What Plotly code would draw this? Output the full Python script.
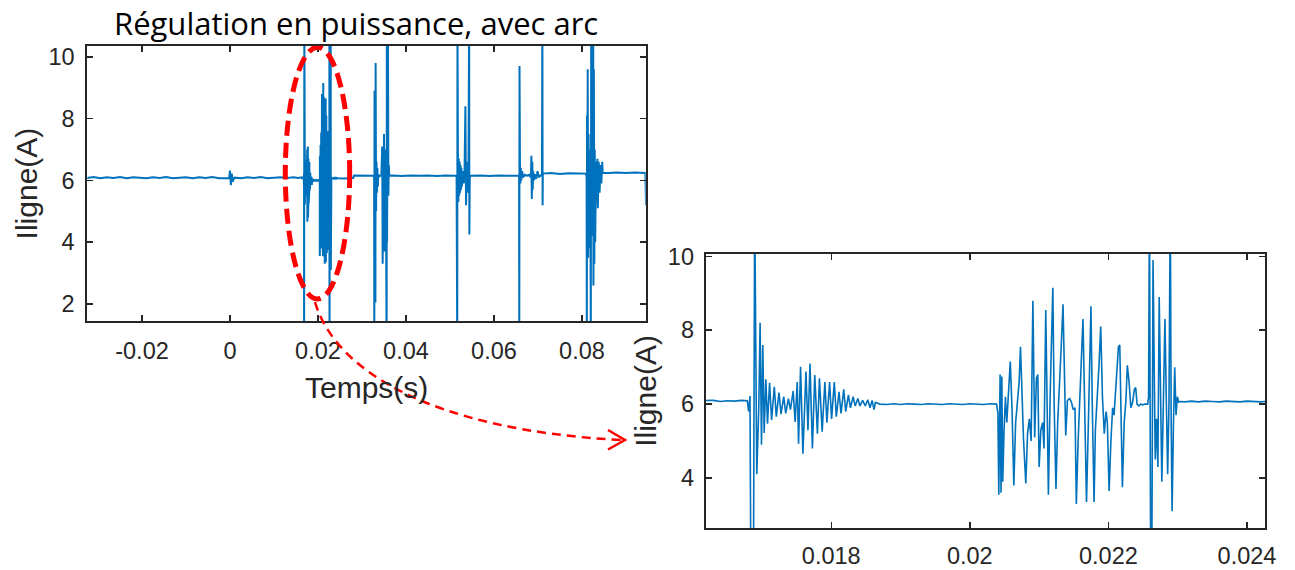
import plotly.graph_objects as go

# ---------------- data (time in s, current in A) ----------------
# baseline before the arc events, with the small blip at t = 0
t_pre = [-0.0325, -0.0310, -0.0295, -0.0280, -0.0265, -0.0250, -0.0235, -0.0220, -0.0205,
         -0.0190, -0.0175, -0.0160, -0.0145, -0.0130, -0.0115, -0.0100, -0.0085, -0.0070,
         -0.0055, -0.0040, -0.0025, -0.0010, -0.0002, 0.0000, 0.0002, 0.0004, 0.0006,
         0.0010, 0.0025, 0.0040, 0.0055, 0.0070, 0.0085, 0.0100, 0.0115, 0.0130, 0.0145, 0.0155]
i_pre = [6.08, 6.11, 6.07, 6.10, 6.08, 6.11, 6.07, 6.10, 6.09,
         6.07, 6.10, 6.08, 6.11, 6.07, 6.09, 6.10, 6.07, 6.10,
         6.08, 6.11, 6.07, 6.09, 6.08, 6.32, 5.85, 6.22, 5.96,
         6.09, 6.07, 6.10, 6.08, 6.11, 6.07, 6.09, 6.10, 6.08, 6.10, 6.08]

# detailed window (shown zoomed in the right panel), time in ms
t_zoom_ms = [16.20, 16.30, 16.40, 16.50, 16.60, 16.70, 16.788,
             16.808, 16.827, 16.842, 16.876, 16.895, 16.925, 16.954, 16.973, 16.993, 17.012,
             17.032, 17.056, 17.080, 17.110, 17.139, 17.178, 17.207, 17.246, 17.275, 17.314,
             17.343, 17.382, 17.411, 17.450, 17.479, 17.509, 17.528, 17.557, 17.591, 17.635,
             17.664, 17.693, 17.728, 17.762, 17.800, 17.830, 17.869, 17.908, 17.937, 17.976,
             18.005, 18.044, 18.073, 18.112, 18.141, 18.180, 18.209, 18.248, 18.277, 18.316,
             18.345, 18.384, 18.414, 18.453, 18.491, 18.526, 18.560, 18.589, 18.618, 18.637,
             18.70, 18.80, 18.90, 19.00, 19.10, 19.20, 19.30, 19.40, 19.50, 19.60, 19.70,
             19.80, 19.90, 20.00, 20.10, 20.20, 20.30,
             20.386, 20.405, 20.418, 20.437, 20.450, 20.462, 20.475, 20.494, 20.514, 20.533,
             20.558, 20.584, 20.610, 20.635, 20.661, 20.686, 20.712, 20.731, 20.750, 20.776,
             20.808, 20.833, 20.859, 20.885, 20.910, 20.936, 20.961, 20.981, 21.000, 21.025,
             21.051, 21.070, 21.096, 21.115, 21.134, 21.160, 21.179, 21.198, 21.217, 21.243,
             21.268, 21.294, 21.320, 21.345, 21.364, 21.384, 21.409, 21.441, 21.467, 21.492,
             21.518, 21.537, 21.563, 21.588, 21.614, 21.633, 21.659, 21.684, 21.710, 21.729,
             21.748, 21.767, 21.793, 21.812, 21.831, 21.863, 21.889, 21.914, 21.940, 21.966,
             21.985, 22.010, 22.036, 22.061, 22.081, 22.113, 22.145, 22.164, 22.183, 22.202,
             22.228, 22.253, 22.273, 22.298, 22.324, 22.349, 22.375, 22.394, 22.413, 22.439,
             22.464, 22.496, 22.528, 22.567, 22.580, 22.592, 22.612, 22.624, 22.644, 22.663,
             22.676, 22.695, 22.714, 22.733, 22.752, 22.771, 22.791, 22.816, 22.835, 22.855,
             22.874, 22.893, 22.906, 22.919, 22.938, 22.957, 22.976, 22.995, 23.015, 23.040,
             23.10, 23.20, 23.30, 23.40, 23.50, 23.60, 23.70, 23.80, 23.90, 24.00, 24.10, 24.20, 24.30]
i_zoom = [6.08, 6.10, 6.07, 6.09, 6.08, 6.10, 6.09,
          5.80, 6.22, 0.50, 0.50, 11.5, 4.10, 5.90, 8.20, 4.90, 7.60,
          5.22, 6.67, 5.47, 6.58, 5.57, 6.47, 5.66, 6.31, 5.73, 6.20,
          5.75, 6.15, 5.85, 6.35, 5.52, 6.60, 4.93, 7.01, 4.66, 6.88,
          5.29, 7.10, 4.80, 6.79, 5.20, 6.70, 5.25, 6.60, 5.50, 6.60,
          5.60, 6.60, 5.66, 6.33, 5.75, 6.40, 5.80, 6.25, 5.90, 6.20,
          5.95, 6.15, 5.95, 6.10, 5.95, 6.12, 5.90, 6.10, 5.85, 6.05,
          6.00, 5.99, 6.01, 5.99, 6.01, 6.00, 5.99, 6.01, 6.00, 5.99, 6.01,
          6.00, 5.99, 6.01, 6.00, 5.99, 6.01,
          6.00, 5.75, 3.55, 6.80, 3.60, 6.75, 3.90, 5.30, 6.20, 5.50,
          6.40, 7.15, 5.80, 3.80, 5.50, 6.10, 6.60, 7.55, 6.20, 5.00,
          3.85, 5.20, 5.60, 5.00, 8.80, 5.10, 6.70, 6.80, 4.30, 5.30,
          5.50, 4.80, 8.55, 5.90, 3.55, 6.30, 8.20, 9.15, 6.00, 3.70,
          5.50, 6.40, 7.60, 8.70, 6.70, 5.15, 6.10, 6.15, 6.05, 5.85,
          5.90, 3.30, 5.00, 6.20, 7.00, 8.30, 5.80, 3.35, 5.40, 7.20,
          8.65, 6.00, 3.35, 5.30, 5.90, 7.00, 8.10, 6.20, 5.20, 5.80,
          5.50, 3.65, 5.00, 5.90, 5.70, 6.50, 7.55, 7.60, 5.60, 3.75,
          5.50, 6.10, 7.05, 6.60, 5.90, 6.05, 6.40, 6.45, 6.00, 5.95,
          6.00, 5.98, 6.00, 6.00, 6.20, 11.5, 0.50, 0.50, 9.90, 6.50,
          4.50, 5.60, 4.30, 8.90, 6.00, 3.90, 5.80, 8.30, 6.20, 4.10,
          6.00, 11.5, 5.50, 3.10, 5.40, 7.00, 5.70, 6.20, 6.05, 6.07,
          6.06, 6.08, 6.06, 6.08, 6.07, 6.06, 6.08, 6.07, 6.06, 6.08, 6.07, 6.06, 6.08]

# rest of the record: later arc events
t_post = [0.0245, 0.0260, 0.0275, 0.0280, 0.0282, 0.0295, 0.0310, 0.0320,
          0.0325, 0.03275, 0.0328, 0.03285, 0.0329, 0.0330, 0.03305, 0.0331, 0.0332, 0.0333,
          0.0334, 0.0335, 0.0336, 0.0337, 0.0338, 0.0340, 0.0344, 0.0346, 0.0347, 0.0348,
          0.0349, 0.0350, 0.0351, 0.0352, 0.0353, 0.0354, 0.0355, 0.0356, 0.03565, 0.0357,
          0.0359, 0.0360, 0.0361, 0.0362,
          0.0370, 0.0390, 0.0410, 0.0430, 0.0450, 0.0470, 0.0490, 0.0510,
          0.0515, 0.05165, 0.0517, 0.05175, 0.0518, 0.0519, 0.0520, 0.0521, 0.0522, 0.0523,
          0.0524, 0.0525, 0.0526, 0.0527, 0.0529, 0.0531, 0.0533, 0.0535, 0.05365, 0.0538,
          0.0540, 0.0542, 0.05435, 0.0544, 0.0545, 0.0547,
          0.0570, 0.0590, 0.0610, 0.0630, 0.0654,
          0.0657, 0.06575, 0.0658, 0.06585, 0.0659, 0.0660, 0.0661, 0.0662, 0.0664, 0.0666,
          0.0670, 0.0675, 0.0680, 0.0684, 0.0685, 0.0686, 0.0687, 0.0688, 0.0689, 0.0691,
          0.0693, 0.0696, 0.0699, 0.0702, 0.0706, 0.0709, 0.0710, 0.07105, 0.0711,
          0.0730, 0.0750, 0.0770, 0.0790, 0.0809,
          0.08105, 0.0811, 0.08115, 0.0812, 0.0813, 0.0814, 0.0815, 0.0816, 0.0817, 0.0818,
          0.0819, 0.0820, 0.0821, 0.08215, 0.0822, 0.0823, 0.0824, 0.08255, 0.0826, 0.0827,
          0.0828, 0.0829, 0.0830, 0.0832, 0.0833, 0.0835, 0.0836, 0.0838, 0.0840, 0.0842,
          0.0844, 0.0846, 0.0847,
          0.0860, 0.0880, 0.0900, 0.0920, 0.0940, 0.0944, 0.09455]
i_post = [6.07, 6.06, 6.07, 6.08, 6.16, 6.15, 6.16, 6.15,
          6.15, 6.10, 0.50, 8.90, 4.60, 7.00, 2.05, 9.80, 5.00, 6.60,
          5.60, 6.40, 5.80, 6.20, 6.10, 6.15, 6.15, 7.10, 3.30, 6.90,
          4.20, 7.50, 3.70, 6.50, 5.00, 7.00, 4.50, 0.50, 11.5, 4.00,
          11.5, 5.50, 6.50, 6.15,
          6.16, 6.14, 6.16, 6.15, 6.16, 6.14, 6.16, 6.15,
          6.15, 0.50, 11.5, 5.40, 6.90, 5.30, 6.70, 5.50, 6.60, 5.60,
          6.50, 5.70, 6.40, 5.80, 6.30, 5.90, 6.20, 8.40, 5.20, 6.60,
          5.60, 6.20, 11.5, 4.25, 6.10, 6.15,
          6.16, 6.14, 6.16, 6.15, 6.16,
          6.15, 0.50, 9.70, 5.80, 6.60, 5.90, 6.40, 6.00, 6.30, 6.10,
          6.18, 6.15, 6.18, 6.10, 6.80, 5.40, 6.60, 5.70, 6.30, 6.00,
          6.20, 6.05, 6.30, 6.10, 6.18, 6.20, 11.5, 5.20, 6.22,
          6.24, 6.21, 6.23, 6.22, 6.22,
          6.10, 0.50, 8.10, 4.00, 9.60, 3.50, 7.50, 4.50, 7.00, 3.80,
          6.80, 0.50, 11.5, 5.00, 8.00, 4.20, 7.20, 11.5, 2.60, 9.60,
          3.30, 7.00, 4.00, 6.60, 5.30, 6.70, 5.10, 6.60, 5.60, 6.50,
          5.90, 6.60, 6.25,
          6.24, 6.26, 6.24, 6.26, 6.25, 6.24, 5.20]

time_s = t_pre + [v / 1000.0 for v in t_zoom_ms] + t_post
current = i_pre + i_zoom + i_post

left_xticks = [-0.02, 0, 0.02, 0.04, 0.06, 0.08]
left_xlabels = ["-0.02", "0", "0.02", "0.04", "0.06", "0.08"]
left_yticks = [2, 4, 6, 8, 10]
right_xticks = [0.018, 0.020, 0.022, 0.024]
right_xlabels = ["0.018", "0.02", "0.022", "0.024"]
right_yticks = [4, 6, 8, 10]

title_text = "Régulation en puissance, avec arc"
xlabel = "Temps(s)"
ylabel = "Iligne(A)"

# ---------------- figure ----------------
# the page's default 8 px body margin is removed after plotting (post_script below)
W, H = 1295, 570
BLUE = "#0072BD"
INK = "#262626"

fig = go.Figure()
fig.add_trace(go.Scatter(x=time_s, y=current, mode="lines", xaxis="x", yaxis="y",
                         line=dict(color=BLUE, width=2), showlegend=False, hoverinfo="skip"))
fig.add_trace(go.Scatter(x=time_s, y=current, mode="lines", xaxis="x2", yaxis="y2",
                         line=dict(color=BLUE, width=1.6), showlegend=False, hoverinfo="skip"))

tickfont = dict(family="Liberation Sans, Arial, sans-serif", size=23.5, color=INK)
common = dict(ticks="inside", ticklen=6, tickwidth=1.5, tickcolor=INK, showline=True,
              linecolor=INK, linewidth=2, mirror="ticks", showgrid=False, zeroline=False,
              tickfont=tickfont, fixedrange=True, automargin=False)


def px(x):
    # window pixel -> paper fraction
    return x / W


def py(y):
    return 1 - y / H


fig.update_layout(
    template="none",
    width=W, height=H, autosize=False,
    margin=dict(l=0, r=0, t=0, b=0, pad=0),
    font=dict(family="Liberation Sans, Arial, sans-serif", color=INK),
    paper_bgcolor="white", plot_bgcolor="white",
    xaxis=dict(domain=[px(87.3), px(645.7)], range=[-0.03243, 0.09448], anchor="y",
               tickmode="array", tickvals=left_xticks, ticktext=left_xlabels,
               ticklabelstandoff=8, **common),
    yaxis=dict(domain=[py(321), py(45.7)], range=[1.45, 10.36], anchor="x",
               tickmode="array", tickvals=left_yticks, ticklabelstandoff=6, **common),
    xaxis2=dict(domain=[px(705.7), px(1265)], range=[0.016188, 0.02426], anchor="y2",
                tickmode="array", tickvals=right_xticks, ticktext=right_xlabels,
                ticklabelstandoff=6, **common),
    yaxis2=dict(domain=[py(528), py(253.5)], range=[2.647, 10.076], anchor="x2",
                tickmode="array", tickvals=right_yticks, ticklabelstandoff=5, **common),
)

labfont = dict(family="Liberation Sans, Arial, sans-serif", size=30, color=INK)
fig.add_annotation(text=title_text, xref="paper", yref="paper", x=px(356), y=py(23),
                   xanchor="center", yanchor="middle", showarrow=False, borderpad=0,
                   font=dict(family="Open Sans, sans-serif", size=31, color="black"))
fig.add_annotation(text=xlabel, xref="paper", yref="paper", x=px(366.5), y=py(387),
                   xanchor="center", yanchor="middle", showarrow=False, font=labfont)
fig.add_annotation(text=ylabel, xref="paper", yref="paper", x=px(26), y=py(183.4),
                   xanchor="center", yanchor="middle", showarrow=False, textangle=-90,
                   font=labfont)
fig.add_annotation(text=ylabel, xref="paper", yref="paper", x=px(646), y=py(390.8),
                   xanchor="center", yanchor="middle", showarrow=False, textangle=-90,
                   font=labfont)

# red dashed ellipse around the first events (in data coordinates of the left panel)
fig.add_shape(type="circle", xref="x", yref="y", x0=0.01257, x1=0.02720, y0=2.16, y1=10.31,
              line=dict(color="#FF0000", width=5, dash="15px,7px"), layer="above")

# curved dashed arrow from the ellipse to the zoomed panel
p0, p1, p2, p3 = (315, 302), (335, 370), (430, 430), (621, 440)
path = "M {},{} C {},{} {},{} {},{}".format(px(p0[0]), py(p0[1]), px(p1[0]), py(p1[1]),
                                           px(p2[0]), py(p2[1]), px(p3[0]), py(p3[1]))
fig.add_shape(type="path", xref="paper", yref="paper", path=path,
              line=dict(color="#FF0000", width=2.5, dash="9px,6px"), layer="above")
head = "M {},{} L {},{} L {},{}".format(px(608), py(430), px(625), py(440), px(608), py(449.5))
fig.add_shape(type="path", xref="paper", yref="paper", path=head,
              line=dict(color="#FF0000", width=2.5), layer="above")

fig.write_html("out.html", config={"displayModeBar": False, "staticPlot": True},
               post_script="document.body.style.margin='0px';document.body.style.overflow='hidden';")
